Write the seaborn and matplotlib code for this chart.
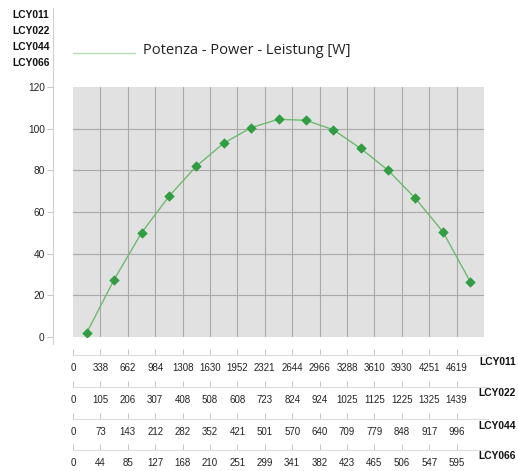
import matplotlib
matplotlib.use("Agg")
import matplotlib.pyplot as plt
from matplotlib import font_manager
import seaborn as sns
import pandas as pd

# ---- data ----
power = [2, 27.5, 50, 67.5, 82, 93, 100.5, 104.5, 104, 99.5, 90.5, 80, 66.5, 50.5, 26.5]
yticks = [0, 20, 40, 60, 80, 100, 120]
models = ["LCY011", "LCY022", "LCY044", "LCY066"]
lux_011 = ["0", "338", "662", "984", "1308", "1630", "1952", "2321", "2644", "2966", "3288", "3610", "3930", "4251", "4619"]
lux_022 = ["0", "105", "206", "307", "408", "508", "608", "723", "824", "924", "1025", "1125", "1225", "1325", "1439"]
lux_044 = ["0", "73", "143", "212", "282", "352", "421", "501", "570", "640", "709", "779", "848", "917", "996"]
lux_066 = ["0", "44", "85", "127", "168", "210", "251", "299", "341", "382", "423", "465", "506", "547", "595"]
rows = [lux_011, lux_022, lux_044, lux_066]
legend_label = "Potenza - Power - Leistung [W]"

sns.set_theme(style="white")
names = {f.name for f in font_manager.fontManager.ttflist}
narrow = "Liberation Sans Narrow" if "Liberation Sans Narrow" in names else "Liberation Sans"
plt.rcParams["font.family"] = ["Open Sans", "DejaVu Sans"]

W, H = 518, 471
fig = plt.figure(figsize=(W / 100, H / 100), dpi=100)

def rect(x0, y0, x1, y1):
    return [x0 / W, 1 - y1 / H, (x1 - x0) / W, (y1 - y0) / H]

df = pd.DataFrame({"x": [i + 0.5 for i in range(len(power))], "y": power})

ax = fig.add_axes(rect(73, 87, 484, 337))
ax.set_facecolor("#e1e1e1")
sns.lineplot(data=df, x="x", y="y", ax=ax, color="#6dbb6d", lw=1.0, zorder=3)
sns.scatterplot(data=df, x="x", y="y", ax=ax, color="#2e9e40", marker="D", s=24,
                edgecolor="#2e9e40", zorder=4)
ax.set_xlim(0, 15)
ax.set_ylim(0, 120)
for i in range(1, 15):
    ax.axvline(i, color="#a9a9a9", lw=0.8, zorder=1)
for v in yticks[1:-1]:
    ax.axhline(v, color="#a9a9a9", lw=0.8, zorder=1)
ax.set_xticks([])
ax.set_yticks([])
ax.set_xlabel("")
ax.set_ylabel("")
for s in ax.spines.values():
    s.set_visible(False)

# y axis (separate spine on the left)
axy = fig.add_axes(rect(53, 87, 54, 337))
axy.set_ylim(0, 120)
axy.set_xticks([])
axy.set_yticks(yticks)
axy.set_yticklabels([str(v) for v in yticks], fontsize=7.3, family=narrow, color="#222222")
axy.tick_params(axis="y", length=4, width=0.6, color="#bbbbbb", pad=2, left=True)
for k, s in axy.spines.items():
    s.set_visible(k == "left")
axy.spines["left"].set_color("#d0d0d0")
axy.spines["left"].set_linewidth(0.8)
axy.patch.set_alpha(0)
fig.add_artist(plt.Line2D([53 / W, 53 / W], [1 - 8 / H, 1 - 87 / H], color="#d0d0d0", lw=0.8))
fig.add_artist(plt.Line2D([53 / W, 53 / W], [1 - 337 / H, 1 - 344 / H], color="#d0d0d0", lw=0.8))

# top-left model names
for i, m in enumerate(models):
    fig.text(12 / W, 1 - (15 + 16 * i) / H, m, fontsize=7.4, fontweight="bold",
             family=narrow, va="center", ha="left", color="#111111")

# legend
fig.add_artist(plt.Line2D([73 / W, 135 / W], [1 - 53 / H, 1 - 53 / H], color="#b5dcb5", lw=1.0))
fig.text(143 / W, 1 - 50 / H, legend_label, fontsize=10.5, va="center", ha="left", color="#222222")

# bottom rows
px_per_unit = 411 / 15
line_y = [355, 387, 419, 450]
lab_y = [362, 393, 426, 456]
for r, (labels, ly) in enumerate(zip(rows, line_y)):
    a = fig.add_axes(rect(73, ly - 1, 488, ly))
    a.set_xlim(0, (488 - 73) / px_per_unit)
    a.set_xticks(range(len(labels)))
    a.set_xticklabels(labels, fontsize=7.0, family=narrow, color="#222222")
    a.set_yticks([])
    a.tick_params(axis="x", direction="in", length=4, width=0.6, color="#bbbbbb", pad=6, bottom=True)
    for k, s in a.spines.items():
        s.set_visible(k == "bottom")
    a.spines["bottom"].set_color("#dcdcdc")
    a.spines["bottom"].set_linewidth(0.8)
    a.patch.set_alpha(0)
    fig.text(516 / W, 1 - lab_y[r] / H, models[r], fontsize=7.4, fontweight="bold",
             family=narrow, va="center", ha="right", color="#111111")

fig.savefig("out.png", dpi=100)
